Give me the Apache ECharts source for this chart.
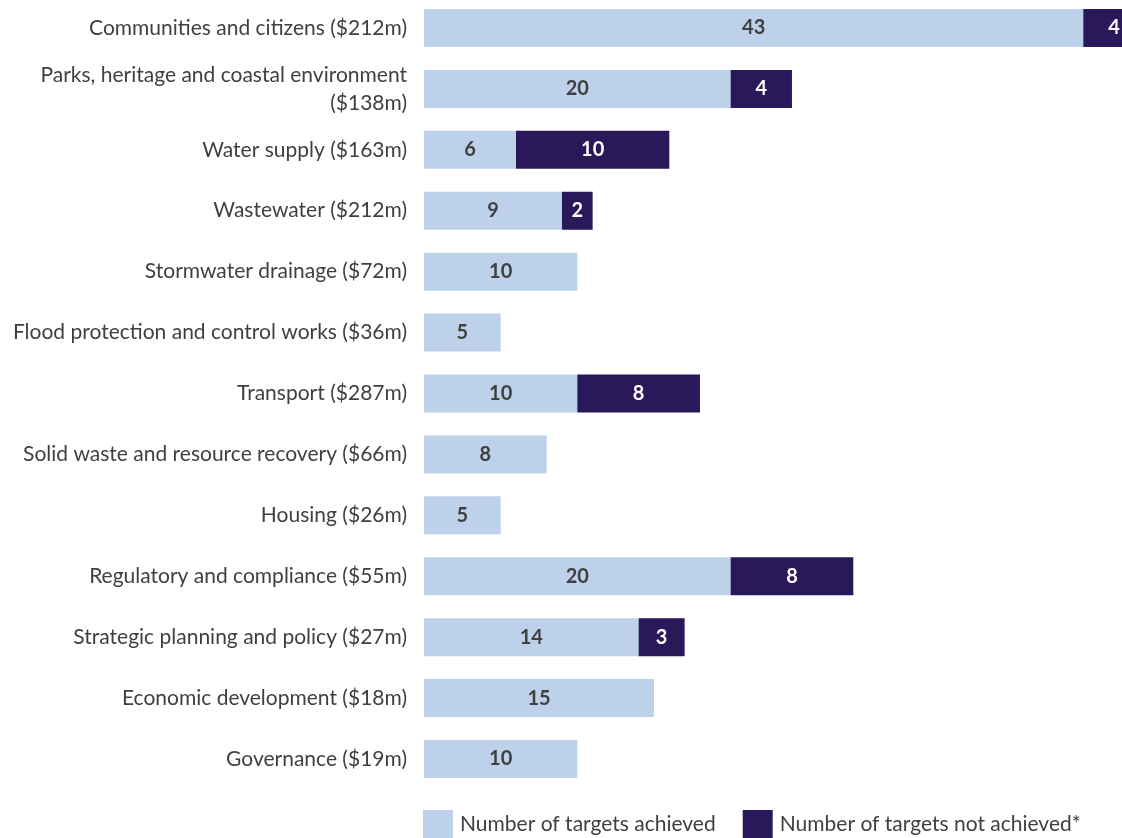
<!DOCTYPE html>
<html><head><meta charset="utf-8">
<script src="https://cdn.jsdelivr.net/npm/echarts@6/dist/echarts.min.js"></script>
<style>html,body{margin:0;padding:0;background:#fff}#c{width:1122px;height:838px}</style>
</head><body><div id="c"></div>
<script>
const categories = [
  "Communities and citizens ($212m)",
  "Parks, heritage and coastal environment\n($138m)",
  "Water supply ($163m)",
  "Wastewater ($212m)",
  "Stormwater drainage ($72m)",
  "Flood protection and control works ($36m)",
  "Transport ($287m)",
  "Solid waste and resource recovery ($66m)",
  "Housing ($26m)",
  "Regulatory and compliance ($55m)",
  "Strategic planning and policy ($27m)",
  "Economic development ($18m)",
  "Governance ($19m)"
];
const achieved    = [43, 20, 6, 9, 10, 5, 10, 8, 5, 20, 14, 15, 10];
const notAchieved = [4, 4, 10, 2, null, null, 8, null, null, 8, 3, null, null];
const seriesNames = ["Number of targets achieved", "Number of targets not achieved*"];

const FONT = "Lato";
const chart = echarts.init(document.getElementById('c'), null, {renderer: 'canvas'});
chart.setOption({
  animation: false,
  grid: {left: 424, width: 720.6, top: -2.5, height: 792, containLabel: false, outerBoundsMode: 'none'},
  xAxis: {type: 'value', min: 0, max: 47, show: false},
  yAxis: {
    type: 'category', data: categories, inverse: true,
    axisLine: {show: false}, axisTick: {show: false}, splitLine: {show: false},
    axisLabel: {margin: 17, color: '#404040', fontFamily: FONT, fontSize: 21, lineHeight: 28, align: 'right'}
  },
  legend: {
    left: 418, top: 805, itemWidth: 30, itemHeight: 29, itemGap: 27,
    icon: 'rect',
    textStyle: {fontFamily: FONT, fontSize: 21, color: '#404040', padding: [3,0,0,2]},
    data: seriesNames
  },
  series: [
    {name: seriesNames[0], type: 'bar', stack: 't', data: achieved, barWidth: 38,
     itemStyle: {color: '#BDD1EB'},
     label: {show: true, position: 'inside', color: '#404040', fontFamily: FONT, fontWeight: 'bold', fontSize: 20}},
    {name: seriesNames[1], type: 'bar', stack: 't', data: notAchieved, barWidth: 38,
     itemStyle: {color: '#29195A'},
     label: {show: true, position: 'inside', color: '#ffffff', fontFamily: FONT, fontWeight: 'bold', fontSize: 20}}
  ]
});
</script></body></html>
